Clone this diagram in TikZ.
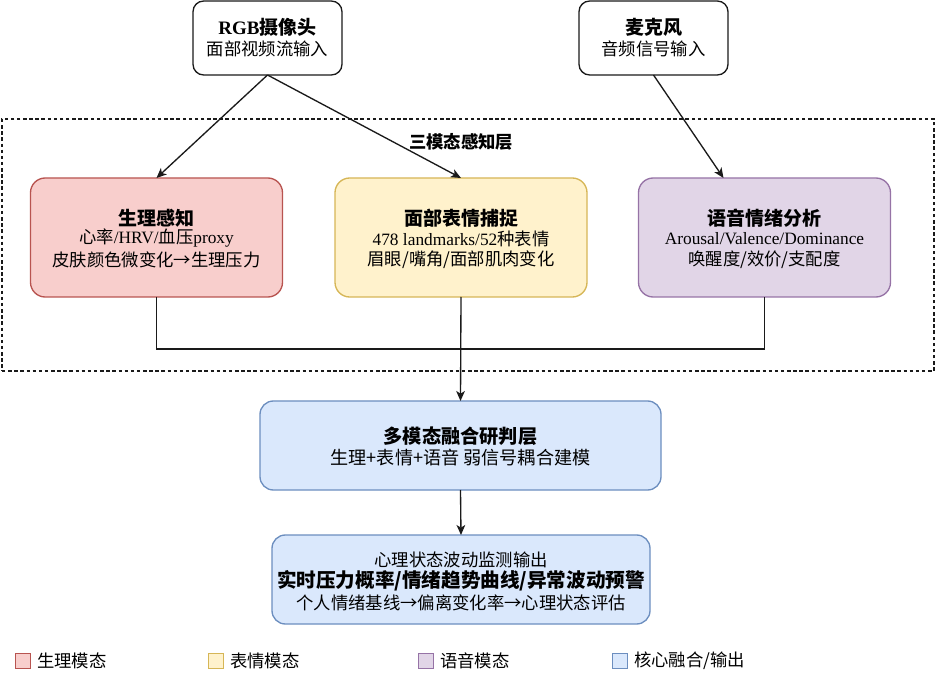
\documentclass[tikz,border=0pt]{standalone}
\usepackage{fontspec}
\setmainfont{Liberation Serif}
\newfontfamily\cjk{Noto Sans CJK SC}
\usetikzlibrary{arrows.meta,calc}
\definecolor{redf}{HTML}{F8CECC}\definecolor{redd}{HTML}{B85450}
\definecolor{yelf}{HTML}{FFF2CC}\definecolor{yeld}{HTML}{D6B656}
\definecolor{purf}{HTML}{E1D5E7}\definecolor{purd}{HTML}{9673A6}
\definecolor{bluf}{HTML}{DAE8FC}\definecolor{blud}{HTML}{6C8EBF}
\definecolor{edgec}{HTML}{1A1A1A}
\begin{document}
\begin{tikzpicture}[x=0.75pt,y=-0.75pt,
  wh/.style 2 args={minimum width=#1*0.75pt, minimum height=#2*0.75pt},
  box/.style={rectangle, rounded corners=#1, inner sep=0pt, outer sep=0pt, line width=1pt},
  srcbox/.style={box=8pt, draw=edgec, fill=white, wh={149}{74}},
  modbox/.style={box=11pt, wh={252}{119}},
  tbody/.style={inner sep=0pt, font=\fontsize{13}{15}\selectfont},
  ttitle/.style={inner sep=0pt, font=\fontsize{14.25}{17}\selectfont\bfseries},
  ln/.style={draw=edgec, line width=1pt},
  arr/.style={ln, -{Stealth[length=7.5pt,width=6.5pt,inset=2pt]}},
  legsq/.style={rectangle, inner sep=0pt, line width=1pt, wh={15}{15}},
  legtxt/.style={tbody, anchor=west}
]
\useasboundingbox (0,0) rectangle (936,684);

% layer frame
\node[rectangle, draw=edgec, dashed, dash pattern=on 2.6pt off 2pt, line width=0.8pt, inner sep=0pt, wh={932}{252}] (layer) at (468,245) {};
\node[tbody, font=\fontsize{13}{15}\selectfont\bfseries] (layerlbl) at (461,142) {\cjk 三模态感知层};

% sources
\node[srcbox] (rgb) at (267.5,38) {};
\node[ttitle] (rgbt) at (267.5,27) {RGB{\cjk 摄像头}};
\node[tbody] (rgbs) at (267.5,49) {\cjk 面部视频流输入};

\node[srcbox] (mic) at (653.5,38) {};
\node[ttitle] (mict) at (653.5,27) {\cjk 麦克风};
\node[tbody] (mics) at (653.5,49) {\cjk 音频信号输入};

% modality boxes
\node[modbox, fill=redf, draw=redd] (phys) at (156.5,237.5) {};
\node[ttitle] (physt) at (156.5,218) {\cjk 生理感知};
\node[tbody] (phys2) at (156.5,238.5) {{\cjk 心率}/HRV/{\cjk 血压}proxy};
\node[tbody] (phys3) at (156.5,260) {\cjk 皮肤颜色微变化→生理压力};

\node[modbox, fill=yelf, draw=yeld] (face) at (461,237.5) {};
\node[ttitle] (facet) at (461,218) {\cjk 面部表情捕捉};
\node[tbody] (face2) at (461,238.5) {478 landmarks/52{\cjk 种表情}};
\node[tbody] (face3) at (461,260) {\cjk 眉眼/嘴角/面部肌肉变化};

\node[modbox, fill=purf, draw=purd] (voice) at (764.5,237.5) {};
\node[ttitle] (voicet) at (764.5,218) {\cjk 语音情绪分析};
\node[tbody] (voice2) at (764.5,238.5) {Arousal/Valence/Dominance};
\node[tbody] (voice3) at (764.5,260) {\cjk 唤醒度/效价/支配度};

% fusion
\node[box=10pt, fill=bluf, draw=blud, wh={401}{89}] (fusion) at (460.5,445.5) {};
\node[inner sep=0pt, font=\fontsize{14.4}{17}\selectfont\bfseries] (fusiont) at (460.5,436.5) {\cjk 多模态融合研判层};
\node[inner sep=0pt, font=\fontsize{13.6}{16}\selectfont] (fusions) at (460.5,458) {\cjk 生理+表情+语音 弱信号耦合建模};

% output
\node[box=10pt, fill=bluf, draw=blud, wh={378}{89}] (out) at (461,579.5) {};
\node[tbody] (out1) at (461,559.5) {\cjk 心理状态波动监测输出};
\node[inner sep=0pt, font=\fontsize{14.7}{17}\selectfont\bfseries] (out2) at (461,581) {\cjk 实时压力概率/情绪趋势曲线/异常波动预警};
\node[tbody] (out3) at (461,603) {\cjk 个人情绪基线→偏离变化率→心理状态评估};

% connectors
\draw[arr] (rgb.south) -- (phys.north);
\draw[arr] (rgb.south) -- (face.north);
\draw[arr] (mic.south) -- ($(voice.north)+(-41,0)$);
\draw[ln] (phys.south) |- ($(voice.south)+(0,52)$) -- (voice.south);
\draw[arr] (face.south) -- (fusion.north);
\draw[arr] (fusion.south) -- (out.north);

% legend
\node[legsq, fill=redf, draw=redd] (lg1) at (23,661) {};
\node[legtxt] (lg1t) at (37,661) {\cjk 生理模态};
\node[legsq, fill=yelf, draw=yeld] (lg2) at (216,661) {};
\node[legtxt] (lg2t) at (230,661) {\cjk 表情模态};
\node[legsq, fill=purf, draw=purd] (lg3) at (426,661) {};
\node[legtxt] (lg3t) at (440,661) {\cjk 语音模态};
\node[legsq, fill=bluf, draw=blud] (lg4) at (620,661) {};
\node[legtxt] (lg4t) at (634,661) {\cjk 核心融合/输出};
\end{tikzpicture}
\end{document}
